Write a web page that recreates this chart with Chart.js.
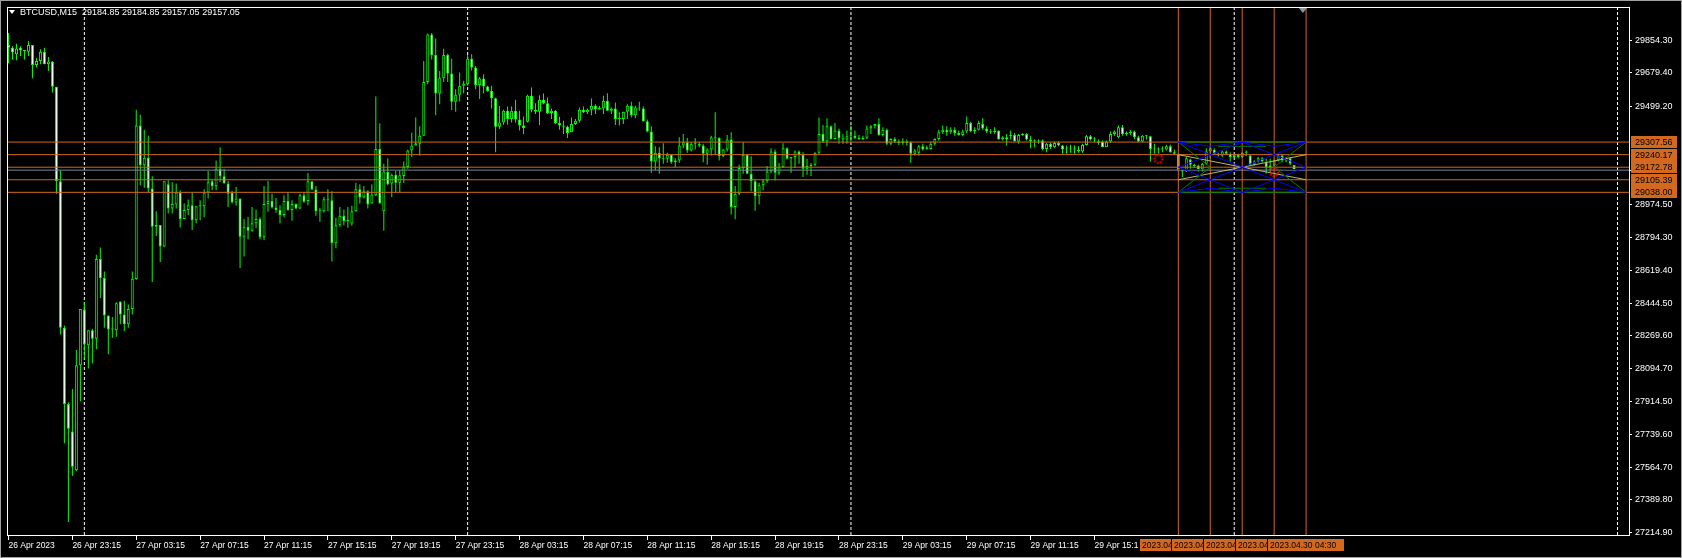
<!DOCTYPE html>
<html>
<head>
<meta charset="utf-8">
<title>BTCUSD,M15</title>
<script src="https://cdn.jsdelivr.net/npm/chart.js@4.4.1/dist/chart.umd.min.js"></script>
<style>
  html, body { margin: 0; padding: 0; background: #000; overflow: hidden; }
  #wrap { position: relative; width: 1682px; height: 558px; }
  #chart { display: block; }
  #title { position: absolute; left: 9px; top: 7px; color: #fff; font: 9px 'Liberation Sans', Arial, sans-serif; line-height: 11px; white-space: pre; }
  #title .tri { display: inline-block; width: 0; height: 0; border-left: 3px solid transparent; border-right: 3px solid transparent; border-top: 4px solid #fff; margin-right: 5px; vertical-align: 1px; }
  #frame { position: absolute; left: 0; top: 0; right: 0; bottom: 0; border: 1px solid #a0a0a0; pointer-events: none; }
</style>
</head>
<body>
<div id="wrap">
  <canvas id="chart" width="1682" height="558"></canvas>
  <div id="title"><span class="tri"></span>BTCUSD,M15  29184.85 29184.85 29157.05 29157.05</div>
  <div id="frame"></div>
</div>
<script>
// BTCUSD M15 candles, bar 0 = 26 Apr 2023 19:15
const opens = [
  29828,29813,29778,29813,29799,29792,29828,29721,29742,29792,
  29725,29739,29604,29097,28312,27903,27756,27548,28111,28410,
  28218,28298,28253,28681,28578,28378,28303,28298,28452,28383,
  28330,28413,28573,29396,29183,29223,29058,28854,28863,28747,
  29081,28952,28973,29037,28895,28943,28969,28889,28964,28964,
  29037,29097,29071,29165,29124,29085,29037,28984,29005,28800,
  28854,28832,28872,28895,28797,28975,28992,28957,28943,28916,
  28991,28943,28975,28952,29023,28991,29097,29053,28937,28937,
  29001,28996,28765,28862,28912,28884,28871,28937,29054,29010,
  29044,28978,29022,29271,28937,29147,29085,29133,29090,29126,
  29174,29262,29289,29298,29342,29630,29884,29774,29568,29650,
  29774,29675,29524,29561,29609,29618,29755,29707,29614,29648,
  29605,29582,29543,29390,29413,29476,29431,29476,29428,29396,
  29417,29556,29481,29470,29534,29516,29463,29476,29410,29396,
  29390,29360,29404,29422,29481,29467,29481,29502,29484,29488,
  29529,29476,29488,29431,29431,29470,29502,29452,29493,29488,
  29419,29364,29204,29250,29221,29218,29239,29200,29209,29289,
  29307,29262,29298,29298,29289,29245,29268,29333,29330,29232,
  29268,29321,28960,29031,29168,29239,29138,29097,29017,29076,
  29097,29150,29257,29143,29173,29275,29221,29227,29257,29239,
  29165,29179,29186,29250,29351,29310,29392,29324,29369,29328,
  29321,29339,29342,29330,29321,29331,29381,29392,29404,29346,
  29374,29298,29324,29310,29303,29310,29307,29245,29250,29285,
  29268,29271,29298,29324,29360,29374,29360,29374,29356,29346,
  29364,29410,29364,29374,29404,29381,29364,29360,29369,29321,
  29333,29339,29346,29310,29346,29351,29321,29312,29316,29316,
  29271,29298,29280,29303,29289,29268,29271,29268,29268,29257,
  29292,29339,29321,29310,29310,29280,29310,29351,29333,29387,
  29351,29356,29364,29333,29310,29342,29339,29271,29268,29271,
  29268,29285,29253,29245,29156,29150,29214,29186,29182,29161,
  29191,29257,29267,29245,29236,29257,29245,29227,29239,29227,
  29250,29236,29186,29204,29221,29200,29173,29182,29209,29236,
  29209,29221,29184.85
];
const highs = [
  29893,29822,29835,29822,29801,29849,29828,29760,29806,29813,
  29764,29742,29604,29156,28324,27912,27983,28193,28413,28449,
  28298,28306,28703,28742,28614,28378,28369,28449,28452,28457,
  28436,28614,29481,29454,29374,29342,29124,28937,28863,29097,
  29103,29092,29085,29049,28978,28999,29037,28964,28996,29055,
  29152,29106,29209,29280,29165,29099,29046,29067,29005,28895,
  28907,28960,28946,28904,29072,29099,29031,29008,28969,29023,
  29037,28996,28978,29031,29037,29142,29097,29072,28955,29014,
  29054,29044,28902,28960,28946,28960,28966,29088,29081,29072,
  29049,29081,29552,29408,29191,29221,29138,29152,29156,29204,
  29266,29357,29440,29392,29742,29890,29893,29863,29689,29808,
  29781,29755,29591,29680,29636,29774,29778,29716,29657,29671,
  29609,29609,29547,29502,29481,29499,29499,29534,29476,29445,
  29561,29600,29516,29559,29568,29547,29488,29479,29444,29422,
  29396,29440,29431,29493,29499,29488,29541,29511,29502,29556,
  29570,29493,29520,29467,29470,29511,29524,29502,29524,29499,
  29428,29392,29285,29280,29301,29250,29239,29221,29333,29351,
  29330,29307,29328,29307,29298,29275,29342,29467,29333,29271,
  29346,29360,29072,29186,29307,29239,29232,29108,29090,29108,
  29179,29275,29268,29197,29301,29280,29227,29262,29262,29253,
  29218,29195,29253,29440,29399,29435,29396,29410,29381,29351,
  29369,29396,29369,29346,29342,29396,29399,29404,29435,29387,
  29381,29328,29333,29321,29328,29321,29310,29271,29293,29298,
  29289,29310,29328,29374,29396,29392,29387,29387,29369,29374,
  29445,29417,29387,29422,29435,29392,29378,29387,29369,29339,
  29351,29369,29356,29351,29356,29356,29342,29321,29321,29321,
  29303,29307,29310,29310,29293,29289,29293,29289,29285,29298,
  29346,29346,29333,29321,29316,29316,29364,29369,29396,29399,
  29364,29374,29369,29342,29346,29346,29342,29298,29280,29285,
  29293,29293,29268,29245,29161,29227,29218,29191,29186,29197,
  29275,29289,29275,29250,29262,29262,29253,29245,29245,29255,
  29262,29239,29210,29227,29227,29218,29218,29214,29239,29239,
  29227,29227,29184.85
];
const lows = [
  29730,29751,29746,29769,29751,29769,29650,29707,29725,29725,
  29689,29573,29031,28276,27693,27270,27517,27542,27916,28143,
  28093,28120,28196,28472,28312,28170,28258,28264,28330,28294,
  28312,28383,28569,29076,29063,29040,28557,28804,28664,28744,
  28925,28925,28952,28850,28895,28916,28836,28872,28889,28904,
  29005,29049,29049,29094,29085,28960,28978,28966,28632,28694,
  28786,28827,28845,28786,28783,28934,28952,28928,28872,28904,
  28939,28886,28948,28948,28982,28969,29049,28912,28880,28930,
  28937,28667,28738,28853,28862,28848,28859,28934,28978,29005,
  28951,28978,29019,28978,28832,29076,29013,29040,29040,29088,
  29165,29227,29289,29236,29342,29618,29751,29452,29511,29630,
  29630,29479,29470,29525,29570,29609,29692,29591,29538,29568,
  29577,29488,29253,29378,29401,29401,29413,29413,29369,29351,
  29413,29467,29458,29399,29511,29458,29431,29404,29374,29351,
  29330,29360,29399,29413,29463,29458,29452,29458,29481,29458,
  29476,29458,29399,29396,29404,29431,29440,29435,29476,29417,
  29360,29143,29156,29138,29191,29197,29191,29173,29197,29275,
  29250,29257,29268,29280,29200,29186,29236,29239,29209,29227,
  29257,28919,28894,29022,29138,29138,29044,28939,28973,29049,
  29090,29141,29102,29129,29168,29214,29143,29168,29191,29120,
  29133,29125,29179,29244,29303,29285,29321,29321,29298,29298,
  29298,29310,29324,29321,29321,29324,29351,29381,29342,29339,
  29292,29292,29303,29292,29293,29289,29197,29236,29236,29262,
  29268,29268,29289,29316,29351,29342,29351,29342,29342,29339,
  29356,29360,29351,29369,29374,29356,29351,29351,29321,29316,
  29289,29321,29310,29298,29342,29316,29275,29280,29298,29262,
  29253,29271,29275,29285,29245,29245,29250,29245,29250,29250,
  29289,29316,29307,29293,29280,29280,29303,29342,29328,29342,
  29342,29346,29324,29307,29307,29321,29204,29245,29245,29253,
  29262,29250,29239,29150,29120,29147,29165,29170,29150,29150,
  29186,29218,29239,29230,29227,29240,29204,29220,29220,29222,
  29232,29182,29180,29198,29198,29138,29147,29175,29204,29200,
  29200,29185,29157.05
];
const closes = [
  29813,29788,29810,29799,29796,29828,29721,29742,29792,29725,
  29739,29604,29097,28312,27903,27770,27566,28111,28413,28223,
  28298,28253,28681,28578,28378,28303,28303,28443,28383,28330,
  28413,28575,29396,29183,29223,29058,28854,28863,28747,29097,
  28952,28975,29037,28895,28943,28969,28889,28964,28964,29037,
  29092,29071,29165,29124,29085,29031,28984,29005,28800,28854,
  28832,28872,28895,28797,28975,28992,28957,28943,28916,28991,
  28943,28975,28952,29023,28987,29097,29053,28937,28937,29001,
  28996,28765,28862,28912,28884,28889,28937,29054,29010,29044,
  28973,29026,29271,28978,29150,29081,29133,29090,29129,29177,
  29262,29289,29301,29342,29630,29884,29774,29568,29650,29774,
  29675,29524,29561,29609,29621,29755,29707,29614,29648,29605,
  29582,29543,29390,29413,29476,29431,29476,29428,29396,29383,
  29556,29481,29470,29534,29516,29463,29476,29410,29396,29390,
  29356,29404,29422,29481,29467,29481,29502,29484,29493,29529,
  29476,29488,29431,29431,29470,29502,29452,29493,29488,29419,
  29364,29204,29250,29221,29218,29239,29200,29209,29289,29307,
  29262,29298,29298,29289,29245,29268,29333,29328,29232,29268,
  29321,28960,29031,29168,29239,29138,29097,29017,29076,29097,
  29150,29257,29143,29173,29275,29218,29227,29257,29239,29165,
  29179,29186,29250,29351,29310,29392,29324,29369,29328,29321,
  29339,29342,29330,29321,29331,29381,29392,29404,29346,29374,
  29298,29324,29310,29303,29310,29303,29245,29262,29285,29268,
  29280,29298,29324,29360,29374,29360,29374,29356,29346,29364,
  29410,29364,29374,29410,29381,29364,29360,29369,29321,29333,
  29321,29346,29310,29346,29351,29321,29310,29316,29310,29271,
  29298,29280,29303,29289,29268,29271,29268,29271,29257,29292,
  29339,29321,29325,29303,29280,29310,29351,29364,29387,29351,
  29356,29364,29333,29310,29342,29339,29271,29268,29271,29268,
  29285,29253,29245,29156,29150,29221,29186,29179,29161,29191,
  29257,29275,29245,29236,29257,29245,29227,29239,29227,29250,
  29257,29186,29204,29221,29204,29173,29182,29209,29236,29209,
  29221,29191,29157.05
];

const xTickBars = [0,16,32,48,64,80,96,112,128,144,160,176,192,208,224,240,256,272];
const xTickLabels = [
  '26 Apr 2023','26 Apr 23:15','27 Apr 03:15','27 Apr 07:15','27 Apr 11:15','27 Apr 15:15',
  '27 Apr 19:15','27 Apr 23:15','28 Apr 03:15','28 Apr 07:15','28 Apr 11:15','28 Apr 15:15',
  '28 Apr 19:15','28 Apr 23:15','29 Apr 03:15','29 Apr 07:15','29 Apr 11:15','29 Apr 15:15'
];
const yTickValues = [29854.30,29679.40,29499.20,28974.50,28794.30,28619.40,28444.50,
  28269.60,28094.70,27914.50,27739.60,27564.70,27389.80,27214.90];

const levelPrices = [29307.56, 29240.17, 29172.78, 29105.39, 29038.00];
const bidPrice = 29157.05;
const vLineBars = [293, 301, 309, 317, 325];
const vLineLabels = ['2023.04.29 20:30','2023.04.29 22:30','2023.04.30 00:30','2023.04.30 02:30','2023.04.30 04:30'];
const daySepBars = [19, 115, 211, 307, 403];
const markBars = [288, 317];
const markPrices = [29218, 29147];
const shiftBar = 324.2;

// drawing inside the box: [bar1, price1, bar2, price2]
const patternGreen = [
  [293,29307.56,325,29307.56],[293,29038,325,29038],
  [293,29307.56,301,29172.78],[293,29038,301,29172.78],
  [325,29307.56,317,29172.78],[325,29038,317,29172.78],
  [303,29285,315,29285],[303,29060,315,29060]
];
const patternBlue = [
  [293,29307.56,325,29038],[293,29038,325,29307.56],
  [293,29172.78,309,29307.56],[309,29307.56,325,29172.78],
  [325,29172.78,309,29038],[309,29038,293,29172.78],
  [293,29307.56,301,29285],[301,29285,309,29307.56],
  [309,29307.56,317,29285],[317,29285,325,29307.56],
  [293,29038,301,29060],[301,29060,309,29038],
  [309,29038,317,29060],[317,29060,325,29038],
  [293,29160,299,29160],[319,29160,325,29160]
];
const patternTan = [
  [293,29240.17,325,29105.39],[293,29105.39,325,29240.17]
];

const xMin = -0.375, xMax = 405.875;
const yMin = 27200.5, yMax = 30031.9;

const LIME = '#00ff00';
const ORANGE = '#d2691e';
const FONT = "'Liberation Sans', Arial, sans-serif";

function gearIcon() {
  const c = document.createElement('canvas');
  c.width = 12; c.height = 12;
  const g = c.getContext('2d');
  g.strokeStyle = '#ff0000';
  g.lineWidth = 2;
  g.setLineDash([1.6, 1.4]);
  g.beginPath();
  g.arc(6, 6, 4, 0, Math.PI * 2);
  g.stroke();
  return c;
}

function segLine(seg, color, width, order) {
  return {
    type: 'line',
    data: [{x: seg[0], y: seg[1]}, {x: seg[2], y: seg[3]}],
    borderColor: color, borderWidth: width || 1,
    pointRadius: 0, fill: false, order: order
  };
}

// bull body black, bear body white, doji a flat lime line
function bodyColor(ctx) {
  const o = opens[ctx.dataIndex], c = closes[ctx.dataIndex];
  if (o === c) return LIME;
  return c > o ? '#000000' : '#ffffff';
}

const datasets = [];

datasets.push({
  type: 'bar',
  data: highs.map((h, i) => ({x: i, y: [lows[i], h]})),
  backgroundColor: LIME, borderWidth: 0,
  barThickness: 1, grouped: false, inflateAmount: 0, order: 20
});
datasets.push({
  type: 'bar',
  data: opens.map((o, i) => ({x: i, y: [o, closes[i]]})),
  backgroundColor: bodyColor,
  borderColor: LIME, borderWidth: 1, borderSkipped: false,
  barThickness: 3, minBarLength: 1, grouped: false, inflateAmount: 0, order: 19
});

// period separators (behind candles)
daySepBars.forEach(b => {
  const d = segLine([b, yMin, b, yMax], '#ffffff', 1, 30);
  d.borderDash = [3, 2];
  datasets.push(d);
});

// bid line
datasets.push(segLine([xMin, bidPrice, xMax, bidPrice], '#778899', 1, 9));

// horizontal levels and vertical time lines
levelPrices.forEach(p => datasets.push(segLine([xMin, p, xMax, p], ORANGE, 1, 8)));
vLineBars.forEach(b => datasets.push(segLine([b, yMin, b, yMax], ORANGE, 1, 8)));

// box drawing
patternTan.forEach(s => datasets.push(segLine(s, '#bdb76b', 1, 7)));
patternGreen.forEach(s => datasets.push(segLine(s, '#008000', 1, 6)));
patternBlue.forEach(s => datasets.push(segLine(s, '#0000ff', 1, 5)));

// red marks
datasets.push({
  type: 'line',
  data: markBars.map((b, i) => ({x: b, y: markPrices[i]})),
  showLine: false, pointStyle: gearIcon(), pointRadius: 6, order: 1
});

const overlay = {
  id: 'mt4Overlay',
  afterDraw(chart) {
    const {ctx, chartArea: a} = chart;
    const xs = chart.scales.x, ys = chart.scales.y;
    ctx.save();
    // plot frame
    ctx.strokeStyle = '#ffffff';
    ctx.lineWidth = 1;
    ctx.strokeRect(a.left + 0.5, a.top + 0.5, a.right - a.left, a.bottom - a.top);

    // bid marker on price scale
    const by = Math.round(ys.getPixelForValue(bidPrice)) + 0.5;
    ctx.beginPath();
    ctx.moveTo(a.right + 1, by); ctx.lineTo(a.right + 48, by);
    ctx.stroke();

    ctx.font = '9px ' + FONT;
    ctx.textBaseline = 'middle';
    ctx.textAlign = 'left';
    // price labels of the levels
    levelPrices.forEach(p => {
      const y = Math.round(ys.getPixelForValue(p));
      ctx.fillStyle = ORANGE;
      ctx.fillRect(a.right + 2, y - 6, 46, 12);
      ctx.fillStyle = '#000';
      ctx.fillText(p.toFixed(2), a.right + 6, y + 0.5);
    });
    // time labels of the vertical lines
    ctx.font = '8.5px ' + FONT;
    vLineBars.forEach((b, k) => {
      const x = Math.round(xs.getPixelForValue(b));
      ctx.fillStyle = '#000';
      ctx.fillRect(x - 39, a.bottom + 4, 1, 12);
      ctx.fillStyle = ORANGE;
      ctx.fillRect(x - 38, a.bottom + 4, 76, 12);
      ctx.fillStyle = '#000';
      ctx.fillText(vLineLabels[k], x - 36, a.bottom + 10.5);
    });
    // chart shift marker
    const sx = xs.getPixelForValue(shiftBar);
    ctx.fillStyle = '#8a96a3';
    ctx.beginPath();
    ctx.moveTo(sx - 4, a.top + 1);
    ctx.lineTo(sx + 4, a.top + 1);
    ctx.lineTo(sx, a.top + 6);
    ctx.closePath();
    ctx.fill();
    ctx.restore();
  }
};

new Chart(document.getElementById('chart'), {
  type: 'bar',
  data: {datasets},
  options: {
    responsive: false,
    animation: false,
    devicePixelRatio: 1,
    layout: {padding: {left: 4, top: 4, right: 0, bottom: 0}},
    plugins: {legend: {display: false}, tooltip: {enabled: false}},
    events: [],
    scales: {
      x: {
        type: 'linear', position: 'bottom', min: xMin, max: xMax,
        offset: false, bounds: 'data',
        afterBuildTicks: s => { s.ticks = xTickBars.map(v => ({value: v})); },
        afterFit: s => { s.height = 23; s.paddingLeft = 0; s.paddingRight = 0; },
        ticks: {
          autoSkip: false, maxRotation: 0, align: 'start', padding: 1,
          color: '#ffffff', font: {family: FONT, size: 8.5},
          callback: (v, i) => xTickLabels[i]
        },
        grid: {display: true, drawOnChartArea: false, drawTicks: true, tickLength: 5, color: '#ffffff', offset: false},
        border: {display: false}
      },
      y: {
        type: 'linear', position: 'right', min: yMin, max: yMax,
        beginAtZero: false, bounds: 'data',
        afterBuildTicks: s => { s.ticks = yTickValues.map(v => ({value: v})); },
        afterFit: s => { s.width = 53; s.paddingTop = 0; s.paddingBottom = 0; },
        ticks: {
          autoSkip: false, padding: 3,
          color: '#ffffff', font: {family: FONT, size: 9},
          callback: v => Number(v).toFixed(2)
        },
        grid: {display: true, drawOnChartArea: false, drawTicks: true, tickLength: 3, color: '#ffffff'},
        border: {display: false}
      }
    }
  },
  plugins: [overlay]
});
</script>
</body>
</html>
